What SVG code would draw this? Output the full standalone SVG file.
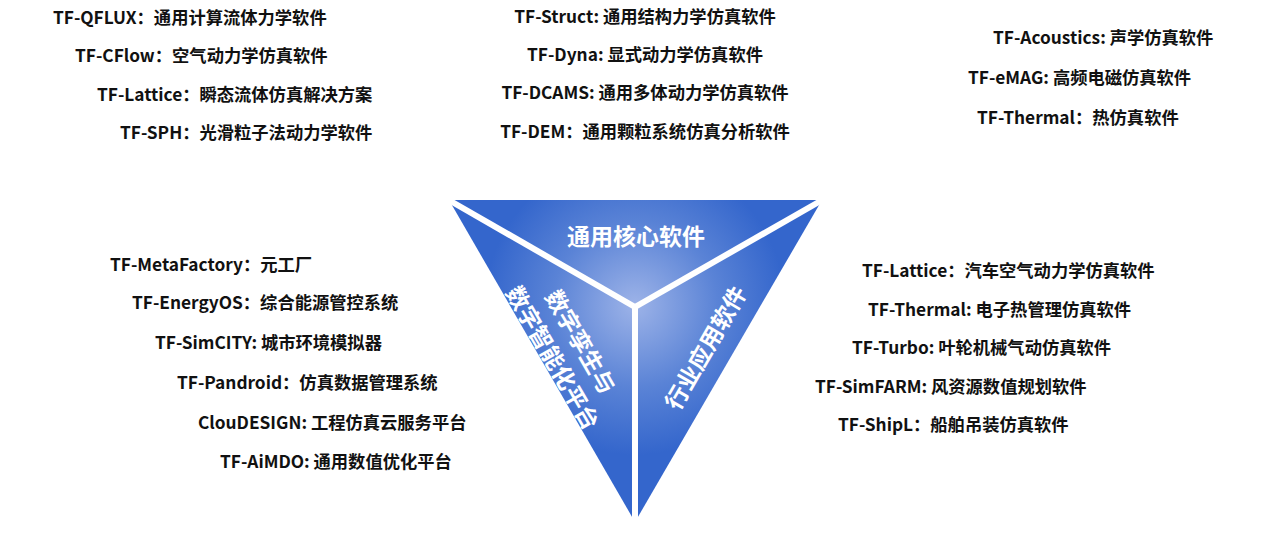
<svg xmlns="http://www.w3.org/2000/svg" width="1268" height="535" viewBox="0 0 1268 535">
<defs>
<radialGradient id="g" gradientUnits="userSpaceOnUse" cx="635" cy="305" r="150">
<stop offset="0" stop-color="#9db3e8"/>
<stop offset="0.55" stop-color="#5a83d6"/>
<stop offset="1" stop-color="#3466cc"/>
</radialGradient>
<style>
.t{font-family:"Noto Sans CJK SC","Microsoft YaHei",sans-serif;font-weight:bold;font-size:17.3px;fill:#111}
.w{font-family:"Noto Sans CJK SC","Microsoft YaHei",sans-serif;font-weight:bold;font-size:23px;fill:#fff}
.gap{stroke:#fff;stroke-width:6;fill:none}
</style>
</defs>
<rect width="1268" height="535" fill="#fff"/>
<g id="triangle">
<polygon points="449,200 822,200 635,522" fill="url(#g)"/>
<g class="gap">
<line x1="635" y1="307" x2="440" y2="195"/>
<line x1="635" y1="307" x2="831" y2="195"/>
<line x1="635" y1="307" x2="635" y2="530"/>
</g>
<text class="w" x="636" y="245" text-anchor="middle">通用核心软件</text>
<text class="w" transform="translate(706,348) rotate(-60)" x="0" y="8" text-anchor="middle">行业应用软件</text>
<g transform="translate(566,350) rotate(60)">
<text class="w" x="0" y="-8" text-anchor="middle">数字孪生与</text>
<text class="w" x="0" y="24" text-anchor="middle">数字智能化平台</text>
</g>
</g>
<g id="general-left">
<text class="t" x="53" y="24">TF-QFLUX：通用计算流体力学软件</text>
<text class="t" x="75" y="62">TF-CFlow：空气动力学仿真软件</text>
<text class="t" x="97" y="101">TF-Lattice：瞬态流体仿真解决方案</text>
<text class="t" x="120" y="139">TF-SPH：光滑粒子法动力学软件</text>
</g>
<g id="general-middle">
<text class="t" x="645" y="23" text-anchor="middle">TF-Struct: 通用结构力学仿真软件</text>
<text class="t" x="645" y="61" text-anchor="middle">TF-Dyna: 显式动力学仿真软件</text>
<text class="t" x="645" y="99" text-anchor="middle">TF-DCAMS: 通用多体动力学仿真软件</text>
<text class="t" x="645" y="138" text-anchor="middle">TF-DEM：通用颗粒系统仿真分析软件</text>
</g>
<g id="general-right">
<text class="t" x="993" y="44">TF-Acoustics: 声学仿真软件</text>
<text class="t" x="968" y="84">TF-eMAG: 高频电磁仿真软件</text>
<text class="t" x="977" y="124">TF-Thermal：热仿真软件</text>
</g>
<g id="digital-platform">
<text class="t" x="110" y="271">TF-MetaFactory：元工厂</text>
<text class="t" x="132" y="309">TF-EnergyOS：综合能源管控系统</text>
<text class="t" x="155" y="349">TF-SimCITY: 城市环境模拟器</text>
<text class="t" x="177" y="389">TF-Pandroid：仿真数据管理系统</text>
<text class="t" x="198" y="429">ClouDESIGN: 工程仿真云服务平台</text>
<text class="t" x="220" y="468">TF-AiMDO: 通用数值优化平台</text>
</g>
<g id="industry">
<text class="t" x="862" y="277">TF-Lattice：汽车空气动力学仿真软件</text>
<text class="t" x="868" y="316">TF-Thermal: 电子热管理仿真软件</text>
<text class="t" x="852" y="354">TF-Turbo: 叶轮机械气动仿真软件</text>
<text class="t" x="815" y="393">TF-SimFARM: 风资源数值规划软件</text>
<text class="t" x="838" y="431">TF-ShipL：船舶吊装仿真软件</text>
</g>
<g id="connectors"/>
</svg>
